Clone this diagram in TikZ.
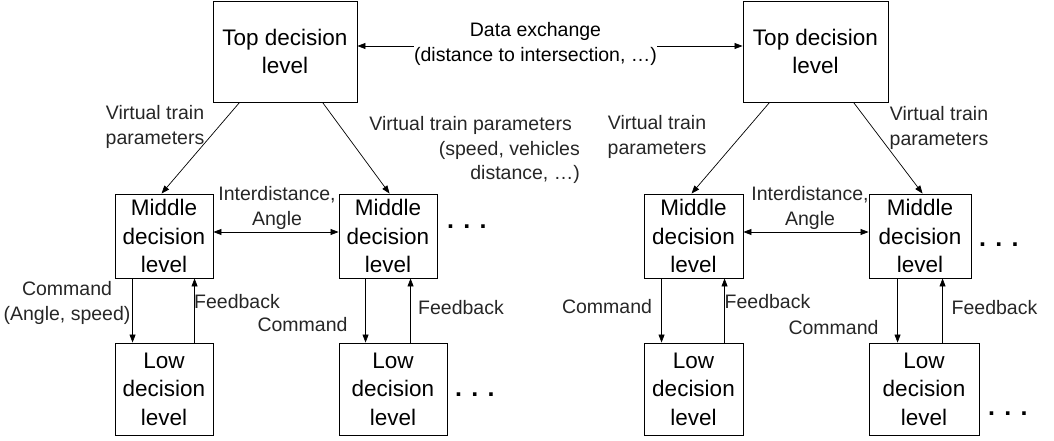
\documentclass[tikz,border=0pt]{standalone}
\usepackage{fontspec}
\setmainfont{Liberation Sans}
\usetikzlibrary{arrows.meta}
\begin{document}
\begin{tikzpicture}[x=1pt,y=-1pt,
  box/.style={draw, line width=0.9pt, inner sep=0pt, align=center, font=\fontsize{22.5}{28.5}\selectfont},
  lbl/.style={inner sep=0pt, align=center, font=\fontsize{19.5}{24.5}\selectfont, text=black!85},
  arr/.style={-{Triangle[length=8pt,width=6pt]}, line width=0.7pt},
  darr/.style={{Triangle[length=8pt,width=6pt]}-{Triangle[length=8pt,width=6pt]}, line width=0.7pt},
  dots/.style={inner sep=0pt, font=\fontsize{25}{25}\selectfont\bfseries}]
\useasboundingbox (0,0) rectangle (1054,441);
% top boxes
\node[box, minimum width=144pt, minimum height=101pt] (T1) at (285,51.5) {Top decision\\level};
\node[box, minimum width=145pt, minimum height=101pt] (T2) at (815.5,51.5) {Top decision\\level};
% middle boxes
\node[box, minimum width=98pt, minimum height=84pt] (M1) at (164,236) {Middle\\decision\\level};
\node[box, minimum width=98pt, minimum height=84pt] (M2) at (388,236) {Middle\\decision\\level};
\node[box, minimum width=99pt, minimum height=84pt] (M3) at (693.5,236) {Middle\\decision\\level};
\node[box, minimum width=102pt, minimum height=84pt] (M4) at (920,236) {Middle\\decision\\level};
% low boxes
\node[box, minimum width=98pt, minimum height=92pt] (L1) at (164,389) {Low\\decision\\level};
\node[box, minimum width=108pt, minimum height=92pt] (L2) at (393,389) {Low\\decision\\level};
\node[box, minimum width=99pt, minimum height=92pt] (L3) at (693.5,389) {Low\\decision\\level};
\node[box, minimum width=110pt, minimum height=92pt] (L4) at (924,389) {Low\\decision\\level};

% data exchange
\draw[darr] ([yshift=5.5pt]T1.east) -- ([yshift=5.5pt]T2.west);
\node[lbl, fill=white, text=black] (DX) at (535.5,44) {Data exchange\\(distance to intersection, \dots)};

% top to middle
\draw[arr] ([xshift=27pt]T1.south west) -- ([xshift=47pt]M1.north west);
\draw[arr] ([xshift=110pt]T1.south west) -- ([xshift=51pt]M2.north west);
\draw[arr] ([xshift=27pt]T2.south west) -- ([xshift=48pt]M3.north west);
\draw[arr] ([xshift=111pt]T2.south west) -- ([xshift=54pt]M4.north west);

% middle to middle
\draw[darr] ([yshift=4pt]M1.east) -- ([yshift=4pt]M2.west);
\draw[darr] ([yshift=4pt]M3.east) -- ([yshift=4pt]M4.west);

% command / feedback
\draw[arr] ([xshift=18pt]M1.south west) -- ([xshift=18pt]L1.north west);
\draw[arr] ([xshift=80pt]L1.north west) -- ([xshift=80pt]M1.south west);
\draw[arr] ([xshift=27pt]M2.south west) -- ([xshift=27pt]L2.north west);
\draw[arr] ([xshift=72pt]L2.north west) -- ([xshift=72pt]M2.south west);
\draw[arr] ([xshift=18pt]M3.south west) -- ([xshift=18pt]L3.north west);
\draw[arr] ([xshift=81pt]L3.north west) -- ([xshift=81pt]M3.south west);
\draw[arr] ([xshift=29pt]M4.south west) -- ([xshift=29pt]L4.north west);
\draw[arr] ([xshift=74pt]L4.north west) -- ([xshift=74pt]M4.south west);

% labels
\node[lbl] (VT1) at (155,127) {Virtual train\\parameters};
\node[lbl, align=right, anchor=east] (VT2) at (580,150) {Virtual train parameters\hspace*{8pt}\\(speed, vehicles\\distance, \dots)};
\node[lbl] (VT3) at (657,137) {Virtual train\\parameters};
\node[lbl] (VT4) at (939,128) {Virtual train\\parameters};
\node[lbl] (IA1) at (277,208) {Interdistance,\\Angle};
\node[lbl] (IA2) at (810,208) {Interdistance,\\Angle};
\node[lbl] (C1) at (67,303) {Command\\(Angle, speed)};
\node[lbl] (F1) at (237,302) {Feedback};
\node[lbl] (C2) at (302.5,325) {Command};
\node[lbl] (F2) at (461,308) {Feedback};
\node[lbl] (C3) at (607,307) {Command};
\node[lbl] (F3) at (767.5,302) {Feedback};
\node[lbl] (C4) at (833.5,328) {Command};
\node[lbl] (F4) at (994.5,308) {Feedback};

% dots
\node[dots, anchor=base west] (D1) at (447,228) {. . .};
\node[dots, anchor=base west] (D2) at (455,396) {. . .};
\node[dots, anchor=base west] (D3) at (979,246) {. . .};
\node[dots, anchor=base west] (D4) at (988,415) {. . .};
\end{tikzpicture}
\end{document}
